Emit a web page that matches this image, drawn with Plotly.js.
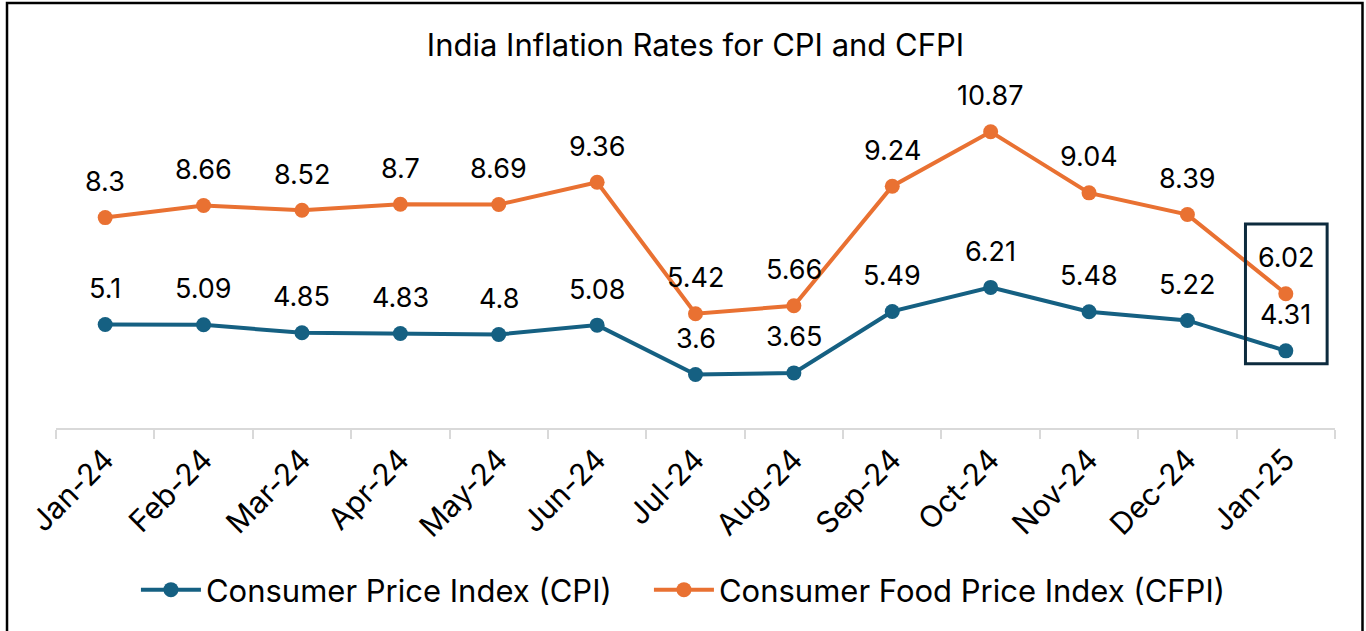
<!DOCTYPE html>
<html>
<head>
<meta charset="utf-8">
<script src="https://cdn.plot.ly/plotly-3.0.1.min.js"></script>
<style>
  html, body { margin: 0; padding: 0; background: #ffffff; }
  #chart { width: 1366px; height: 631px; }
</style>
</head>
<body>
<div id="chart"></div>
<script>
const months = ["Jan-24","Feb-24","Mar-24","Apr-24","May-24","Jun-24","Jul-24","Aug-24","Sep-24","Oct-24","Nov-24","Dec-24","Jan-25"];
const cpi  = [5.1, 5.09, 4.85, 4.83, 4.8, 5.08, 3.6, 3.65, 5.49, 6.21, 5.48, 5.22, 4.31];
const cfpi = [8.3, 8.66, 8.52, 8.7, 8.69, 9.36, 5.42, 5.66, 9.24, 10.87, 9.04, 8.39, 6.02];
const cpiName = "Consumer Price Index (CPI)";
const cfpiName = "Consumer Food Price Index (CFPI)";
const titleText = "India Inflation Rates for CPI and CFPI";

const blue = "#156082";
const orange = "#E97132";
const FONT = "Inter, 'Noto Sans', sans-serif";

const traces = [
  {x: months, y: cpi, name: cpiName, type: "scatter", mode: "lines+markers", legend: "legend",
   line: {color: blue, width: 4}, marker: {color: blue, size: 15}, cliponaxis: false},
  {x: months, y: cfpi, name: cfpiName, type: "scatter", mode: "lines+markers", legend: "legend2",
   line: {color: orange, width: 4}, marker: {color: orange, size: 15}, cliponaxis: false}
];

const annotations = [];
[cpi, cfpi].forEach(arr => arr.forEach((v, i) => annotations.push({
  x: months[i], y: v, xref: "x", yref: "y", text: String(v), showarrow: false,
  yshift: 36, yanchor: "middle", font: {family: FONT, size: 27, color: "#000000"}
})));

const legendBase = {orientation: "h", xanchor: "left", y: -0.485, yanchor: "middle",
  font: {family: FONT, size: 31, color: "#000000"}, itemwidth: 60, bgcolor: "rgba(0,0,0,0)"};

const layout = {
  width: 1366, height: 631,
  margin: {l: 56, r: 31, t: 94, b: 203},
  paper_bgcolor: "#ffffff", plot_bgcolor: "#ffffff",
  title: {text: titleText, x: 0.5, xanchor: "center", y: 0.928, yanchor: "middle", xref: "paper",
          font: {family: FONT, size: 31, color: "#000000"}},
  xaxis: {type: "category", range: [-0.5, 12.5], showgrid: false, zeroline: false,
          showline: true, linecolor: "#d9d9d9", linewidth: 2,
          ticks: "outside", tickson: "boundaries", ticklen: 9, tickcolor: "#d9d9d9", tickwidth: 2,
          tickangle: -45, tickfont: {family: FONT, size: 30, color: "#000000"}, fixedrange: true},
  yaxis: {range: [2, 12], visible: false, showgrid: false, zeroline: false, fixedrange: true},
  showlegend: true,
  legend: Object.assign({}, legendBase, {x: 0.0625}),
  legend2: Object.assign({}, legendBase, {x: 0.4636}),
  annotations: annotations,
  shapes: [
    {type: "rect", xref: "x", yref: "y", x0: 11.59, x1: 12.42, y0: 3.92, y1: 8.11,
     line: {color: "#0d2b3e", width: 3}, fillcolor: "rgba(0,0,0,0)"},
    {type: "rect", xref: "paper", yref: "paper", x0: -0.0383, x1: 1.0215, y0: -0.66, y1: 1.2725,
     line: {color: "#000000", width: 2.5}, fillcolor: "rgba(0,0,0,0)"}
  ]
};

Plotly.newPlot("chart", traces, layout, {displayModeBar: false, responsive: false});
</script>
</body>
</html>
